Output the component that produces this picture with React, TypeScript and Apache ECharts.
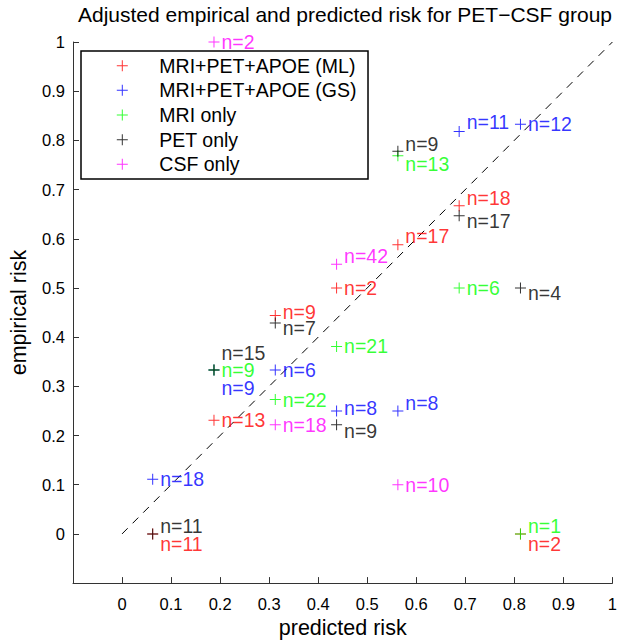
import React, { useEffect, useRef } from "react";
import * as echarts from "echarts";

const FONT = '"Liberation Sans", Arial, Helvetica, sans-serif';

const titleText = "Adjusted empirical and predicted risk for PET\u2212CSF group";
const xAxisName = "predicted risk";
const yAxisName = "empirical risk";

const seriesNames = [
  "MRI+PET+APOE (ML)",
  "MRI+PET+APOE (GS)",
  "MRI only",
  "PET only",
  "CSF only",
];
const seriesColors = ["#ff0000", "#0000ff", "#00ff00", "#000000", "#ff00ff"];

// MRI+PET+APOE (ML)
const mlX = [0.0625, 0.1875, 0.3125, 0.4375, 0.5625, 0.6875, 0.8125];
const mlY = [0, 0.231, 0.444, 0.5, 0.588, 0.667, 0];
const mlN = [11, 13, 9, 2, 17, 18, 2];

// MRI+PET+APOE (GS)
const gsX = [0.0625, 0.1875, 0.3125, 0.4375, 0.5625, 0.6875, 0.8125];
const gsY = [0.111, 0.333, 0.333, 0.25, 0.25, 0.818, 0.833];
const gsN = [18, 9, 6, 8, 8, 11, 12];

// MRI only
const mriX = [0.1875, 0.3125, 0.4375, 0.5625, 0.6875, 0.8125];
const mriY = [0.333, 0.273, 0.381, 0.769, 0.5, 0];
const mriN = [9, 22, 21, 13, 6, 1];

// PET only
const petX = [0.0625, 0.1875, 0.3125, 0.4375, 0.5625, 0.6875, 0.8125];
const petY = [0, 0.333, 0.429, 0.222, 0.778, 0.647, 0.5];
const petN = [11, 15, 7, 9, 9, 17, 4];

// CSF only
const csfX = [0.1875, 0.3125, 0.4375, 0.5625];
const csfY = [1, 0.222, 0.548, 0.1];
const csfN = [2, 18, 42, 10];

// reference diagonal
const diagX = [0, 1];
const diagY = [0, 1];

// vertical nudges (px) of the "n=" labels, to keep overlapping ones apart
const mlLabelDy = [10, 0, -4, 0, -9, -8, 10];
const gsLabelDy = [0, 18, 0, -3, -8, -10, 0];
const mriLabelDy = [0, 0, 0, 8, 0, -8];
const petLabelDy = [-8, -17, 5, 6, -7, 5, 5];
const csfLabelDy = [0, 0, -8, 0];

const CROSS = "path://M5,0H6V5H11V6H6V11H5V6H0V5H5Z";

export default function App() {
  const ref = useRef<HTMLDivElement>(null);

  useEffect(() => {
    if (!ref.current) return;
    const chart = echarts.init(ref.current, null, { renderer: "svg" });

    const groups = [
      { x: mlX, y: mlY, n: mlN, dy: mlLabelDy },
      { x: gsX, y: gsY, n: gsN, dy: gsLabelDy },
      { x: mriX, y: mriY, n: mriN, dy: mriLabelDy },
      { x: petX, y: petY, n: petN, dy: petLabelDy },
      { x: csfX, y: csfY, n: csfN, dy: csfLabelDy },
    ];

    const axisLineStyle = { color: "#333333", width: 1 };
    const tickFmt = (v: number) => (v < -0.05 ? "" : String(Math.round(v * 10) / 10));

    const scatterSeries = groups.map((g, i) => ({
      type: "scatter",
      name: seriesNames[i],
      symbol: CROSS,
      symbolSize: 11,
      clip: false,
      itemStyle: { color: seriesColors[i] },
      emphasis: { disabled: true },
      data: g.x.map((x, j) => ({
        value: [x, g.y[j]],
        label: { offset: [0, g.dy[j]] },
      })),
      label: {
        show: true,
        position: "right",
        distance: 2,
        formatter: (p: any) => "n=" + g.n[p.dataIndex],
        color: seriesColors[i],
        fontSize: 19.5,
        fontFamily: FONT,
      },
    }));

    chart.setOption({
      animation: false,
      backgroundColor: "#ffffff",
      title: {
        text: titleText,
        left: 345,
        top: 4,
        padding: 0,
        textAlign: "center",
        textStyle: { fontSize: 21, fontWeight: "normal", color: "#000", fontFamily: FONT },
      },
      legend: {
        orient: "vertical",
        left: 81,
        top: 51,
        padding: [4.7, 11.5, 4.7, 35.8],
        itemWidth: 64,
        itemHeight: 11,
        itemGap: 4.65,
        borderColor: "#000",
        borderWidth: 1.5,
        backgroundColor: "#ffffff",
        selectedMode: false,
        data: seriesNames.map((n) => ({ name: n, icon: CROSS })),
        textStyle: { fontSize: 19.5, lineHeight: 20, color: "#000", fontFamily: FONT },
      },
      grid: { left: 71, right: 3, top: 42, bottom: 56, containLabel: false },
      xAxis: {
        type: "value",
        min: -0.1,
        max: 1,
        interval: 0.1,
        name: xAxisName,
        nameLocation: "middle",
        nameGap: 27,
        nameTextStyle: { fontSize: 21.5, color: "#000", fontFamily: FONT },
        axisLine: { show: true, onZero: false, lineStyle: axisLineStyle },
        axisTick: { show: true, inside: true, length: 6, lineStyle: axisLineStyle },
        axisLabel: { formatter: tickFmt, fontSize: 16.5, color: "#000", margin: 12, fontFamily: FONT },
        splitLine: { show: false },
      },
      yAxis: {
        type: "value",
        min: -0.1,
        max: 1,
        interval: 0.1,
        name: yAxisName,
        nameLocation: "middle",
        nameGap: 43,
        nameTextStyle: { fontSize: 21.5, color: "#000", fontFamily: FONT },
        axisLine: { show: true, onZero: false, lineStyle: axisLineStyle },
        axisTick: { show: true, inside: true, length: 6, lineStyle: axisLineStyle },
        axisLabel: { formatter: tickFmt, fontSize: 16.5, color: "#000", margin: 8, fontFamily: FONT },
        splitLine: { show: false },
      },
      series: [
        {
          type: "line",
          name: "diagonal",
          data: diagX.map((x, i) => [x, diagY[i]]),
          symbol: "none",
          silent: true,
          lineStyle: { color: "#000", width: 1, type: [8, 7] },
          z: 1,
        },
        ...scatterSeries,
      ],
    });

    return () => chart.dispose();
  }, []);

  return (
    <div
      ref={ref}
      style={{ position: "fixed", left: 0, top: 0, width: 620, height: 644 }}
    />
  );
}
